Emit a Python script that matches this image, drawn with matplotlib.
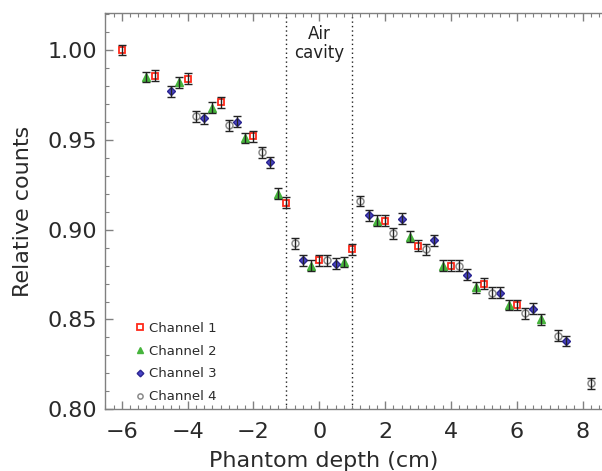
import matplotlib
matplotlib.use("Agg")
import matplotlib.pyplot as plt
from matplotlib.lines import Line2D
from matplotlib.ticker import MultipleLocator

# depth positions (cm) and relative counts for each channel
ch1_x = [-6, -5, -4, -3, -2, -1, 0, 1, 2, 3, 4, 5, 6]
ch1_y = [1.000, 0.9857, 0.984, 0.971, 0.952, 0.915, 0.883, 0.889, 0.905, 0.891, 0.880, 0.870, 0.858]

ch2_x = [-5.25, -4.25, -3.25, -2.25, -1.25, -0.25, 0.75, 1.75, 2.75, 3.75, 4.75, 5.75, 6.75]
ch2_y = [0.985, 0.982, 0.968, 0.951, 0.920, 0.880, 0.882, 0.905, 0.896, 0.880, 0.868, 0.858, 0.850]

ch3_x = [-4.5, -3.5, -2.5, -1.5, -0.5, 0.5, 1.5, 2.5, 3.5, 4.5, 5.5, 6.5, 7.5]
ch3_y = [0.977, 0.962, 0.960, 0.9375, 0.883, 0.881, 0.908, 0.906, 0.894, 0.875, 0.865, 0.856, 0.838]

ch4_x = [-3.75, -2.75, -1.75, -0.75, 0.25, 1.25, 2.25, 3.25, 4.25, 5.25, 6.25, 7.25, 8.25]
ch4_y = [0.963, 0.958, 0.943, 0.8925, 0.883, 0.916, 0.898, 0.889, 0.880, 0.865, 0.8535, 0.841, 0.8145]

err = 0.003
cavity_edges = [-1, 1]

channels = [
    ("Channel 1", ch1_x, ch1_y, dict(marker="s", ms=5, mfc="none", mec="#ff2a1a", mew=1.3)),
    ("Channel 2", ch2_x, ch2_y, dict(marker="^", ms=6, mfc="#46b43c", mec="#46b43c", mew=1.0)),
    ("Channel 3", ch3_x, ch3_y, dict(marker="D", ms=4.5, mfc="#4a46c8", mec="#2a2490", mew=1.0)),
    ("Channel 4", ch4_x, ch4_y, dict(marker="o", ms=5, mfc="none", mec="#8a8a8a", mew=1.1)),
]

plt.rcParams["font.family"] = "DejaVu Sans"

fig = plt.figure(figsize=(6.02, 4.71), dpi=100)
ax = fig.add_axes([0.175, 0.131, 0.8255, 0.841])

handles = []
for name, xs, ys, style in channels:
    ax.plot(xs, ys, linestyle="none", zorder=2, **style)
    ax.errorbar(xs, ys, yerr=[err] * len(xs), fmt="none", ecolor="#222222",
                elinewidth=1.0, capsize=2.8, capthick=1.0, zorder=3)
    small = dict(style)
    small["ms"] = style["ms"] * 0.75
    handles.append(Line2D([], [], linestyle="none", label=name, **small))

for xc in cavity_edges:
    ax.axvline(xc, color="#222222", linestyle=(0, (1, 2.2)), linewidth=1.0, zorder=1)

ax.text(0, 1.0035, "Air\ncavity", ha="center", va="center", fontsize=12,
        color="#222222", linespacing=1.1)

ax.set_xlim(-6.5, 8.6)
ax.set_ylim(0.80, 1.0205)
ax.xaxis.set_major_locator(MultipleLocator(2))
ax.xaxis.set_minor_locator(MultipleLocator(0.25))
ax.yaxis.set_major_locator(MultipleLocator(0.05))
ax.yaxis.set_minor_locator(MultipleLocator(0.01))
ax.yaxis.set_major_formatter(matplotlib.ticker.FormatStrFormatter("%.2f"))

for side in ["left", "top", "bottom"]:
    ax.spines[side].set_color("#808080")
    ax.spines[side].set_linewidth(1.0)
ax.spines["right"].set_visible(False)

ax.tick_params(which="both", direction="in", top=True, right=False, color="#808080",
               labelcolor="#2a2a2a", labelsize=16)
ax.tick_params(which="major", length=6, width=1.0)
ax.tick_params(which="minor", length=3.2, width=0.8)
ax.tick_params(axis="x", pad=9)
ax.tick_params(axis="y", pad=6)

ax.set_xlabel("Phantom depth (cm)", fontsize=16, color="#2a2a2a")
ax.set_ylabel("Relative counts", fontsize=16, color="#2a2a2a")
ax.xaxis.set_label_coords(0.44, -0.105)
ax.yaxis.set_label_coords(-0.145, 0.5)

ax.legend(handles=handles, loc="lower left", bbox_to_anchor=(0.035, -0.015),
          frameon=False, fontsize=9.5, handlelength=0.8, handletextpad=0.3,
          labelspacing=0.75, labelcolor="#2a2a2a")

fig.savefig("out.png", dpi=100)
